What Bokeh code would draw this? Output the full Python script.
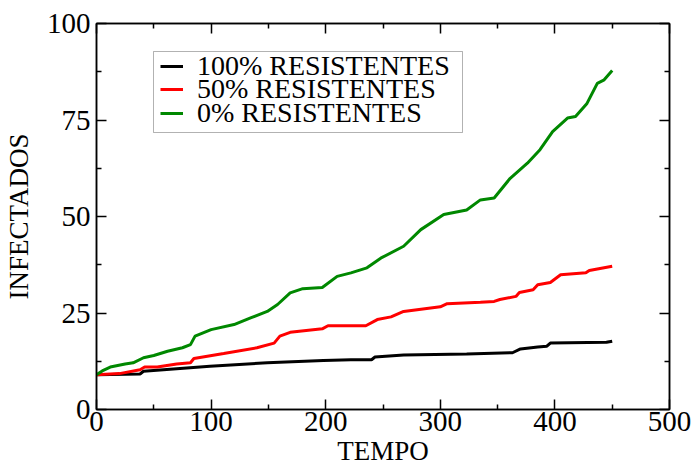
from bokeh.plotting import figure
from bokeh.models import Range1d, FixedTicker, LinearAxis, Legend, LegendItem, BoxAnnotation
from bokeh.embed import file_html
from bokeh.resources import INLINE

# Data
t_green = [0, 5, 12, 25, 32, 41, 50, 62, 75, 82, 86, 100, 120, 135, 149, 158, 169, 180, 197, 210,
           222, 236, 248, 268, 283, 303, 323, 335, 347, 361, 376, 387, 398, 411, 418, 428, 437, 443, 450]
y_green = [9.0, 10.0, 11.0, 11.8, 12.1, 13.4, 14.0, 15.1, 16.0, 16.8, 19.0, 20.7, 22.0, 23.8, 25.4,
           27.2, 30.2, 31.3, 31.6, 34.5, 35.4, 36.7, 39.2, 42.3, 46.6, 50.5, 51.7, 54.3, 54.8, 59.9,
           63.8, 67.3, 72.0, 75.5, 75.9, 79.3, 84.5, 85.4, 87.8]

t_red = [0, 20, 38, 42, 53, 70, 82, 85, 111, 140, 155, 160, 169, 197, 202, 235, 245, 257, 268, 300,
         306, 335, 347, 352, 366, 369, 381, 385, 396, 405, 427, 430, 450]
y_red = [9.0, 9.3, 10.3, 11.0, 11.0, 11.8, 12.1, 13.2, 14.5, 16.0, 17.2, 19.0, 20.0, 20.9, 21.7,
         21.7, 23.3, 24.0, 25.4, 26.6, 27.4, 27.8, 28.0, 28.5, 29.3, 30.3, 31.0, 32.3, 32.9, 34.9,
         35.4, 36.0, 37.1]

t_black = [0, 38, 41, 99, 149, 198, 222, 240, 243, 268, 323, 363, 370, 385, 393, 396, 445, 450]
y_black = [9.0, 9.2, 9.9, 11.2, 12.1, 12.7, 12.9, 12.9, 13.6, 14.1, 14.4, 14.7, 15.7, 16.2, 16.4,
           17.2, 17.4, 17.7]

labels = ["100% RESISTENTES", "50% RESISTENTES", "0% RESISTENTES"]
x_ticks = [0, 100, 200, 300, 400, 500]
x_minor = [50, 150, 250, 350, 450]
y_ticks = [0, 25, 50, 75, 100]
y_minor = [12.5, 37.5, 62.5, 87.5]

FONT = "Liberation Serif"

p = figure(width=697, height=468, output_backend="svg", toolbar_location=None,
           x_range=Range1d(0, 500), y_range=Range1d(0, 100),
           min_border_left=96, min_border_right=28, min_border_top=23, min_border_bottom=58,
           x_axis_label="TEMPO", y_axis_label="INFECTADOS")
p.grid.visible = False
p.outline_line_color = "black"
p.outline_line_width = 1.5
p.background_fill_color = "white"
p.border_fill_color = "white"

xt = FixedTicker(ticks=x_ticks, minor_ticks=x_minor)
yt = FixedTicker(ticks=y_ticks, minor_ticks=y_minor)


def style(ax, labels_on=True):
    ax.axis_line_color = "black"
    ax.axis_line_width = 1.5
    ax.major_tick_in = 10
    ax.major_tick_out = 0
    ax.minor_tick_in = 5
    ax.minor_tick_out = 0
    ax.major_tick_line_width = 1.5
    ax.minor_tick_line_width = 1.5
    ax.major_tick_line_color = "black"
    ax.minor_tick_line_color = "black"
    ax.major_label_text_font = FONT
    ax.major_label_text_font_size = "29px"
    ax.major_label_text_color = "black"
    ax.axis_label_text_font = FONT
    ax.axis_label_text_font_size = "27px"
    ax.axis_label_text_font_style = "normal"
    ax.axis_label_text_color = "black"
    if not labels_on:
        ax.major_label_text_font_size = "0px"
        ax.major_label_text_alpha = 0


p.xaxis[0].ticker = xt
p.yaxis[0].ticker = yt
style(p.xaxis[0])
style(p.yaxis[0])
p.xaxis[0].major_label_standoff = 2
p.xaxis[0].axis_label_standoff = 2
p.yaxis[0].major_label_standoff = 6
p.yaxis[0].axis_label_standoff = 10

top = LinearAxis(ticker=FixedTicker(ticks=x_ticks, minor_ticks=x_minor))
style(top, labels_on=False)
top.major_label_standoff = 0
p.add_layout(top, "above")
right = LinearAxis(ticker=FixedTicker(ticks=y_ticks, minor_ticks=y_minor))
style(right, labels_on=False)
right.major_label_standoff = 0
p.add_layout(right, "right")

r1 = p.line(t_black, y_black, line_color="black", line_width=3)
r2 = p.line(t_red, y_red, line_color="red", line_width=3)
r3 = p.line(t_green, y_green, line_color="#008800", line_width=3)

# legend frame
box = BoxAnnotation(left=153, right=462, top=51, bottom=132,
                    left_units="canvas", right_units="canvas",
                    top_units="canvas", bottom_units="canvas",
                    fill_color="white", fill_alpha=1.0,
                    line_color="black", line_width=1, level="overlay")
p.add_layout(box)

# one legend per row so that rows can sit closer than Bokeh's own row height
row_bottoms = [327, 304, 280]
for lab, rend, yb in zip(labels, [r1, r2, r3], row_bottoms):
    lg = Legend(items=[LegendItem(label=lab, renderers=[rend])], location=(64, yb))
    lg.label_text_font = FONT
    lg.label_text_font_size = "28px"
    lg.label_text_color = "black"
    lg.glyph_width = 23
    lg.glyph_height = 20
    lg.label_height = 20
    lg.label_standoff = 14
    lg.spacing = 0
    lg.padding = 0
    lg.margin = 0
    lg.border_line_color = None
    lg.background_fill_alpha = 0
    p.add_layout(lg, "center")

open("out.html", "w").write(file_html(p, INLINE))
